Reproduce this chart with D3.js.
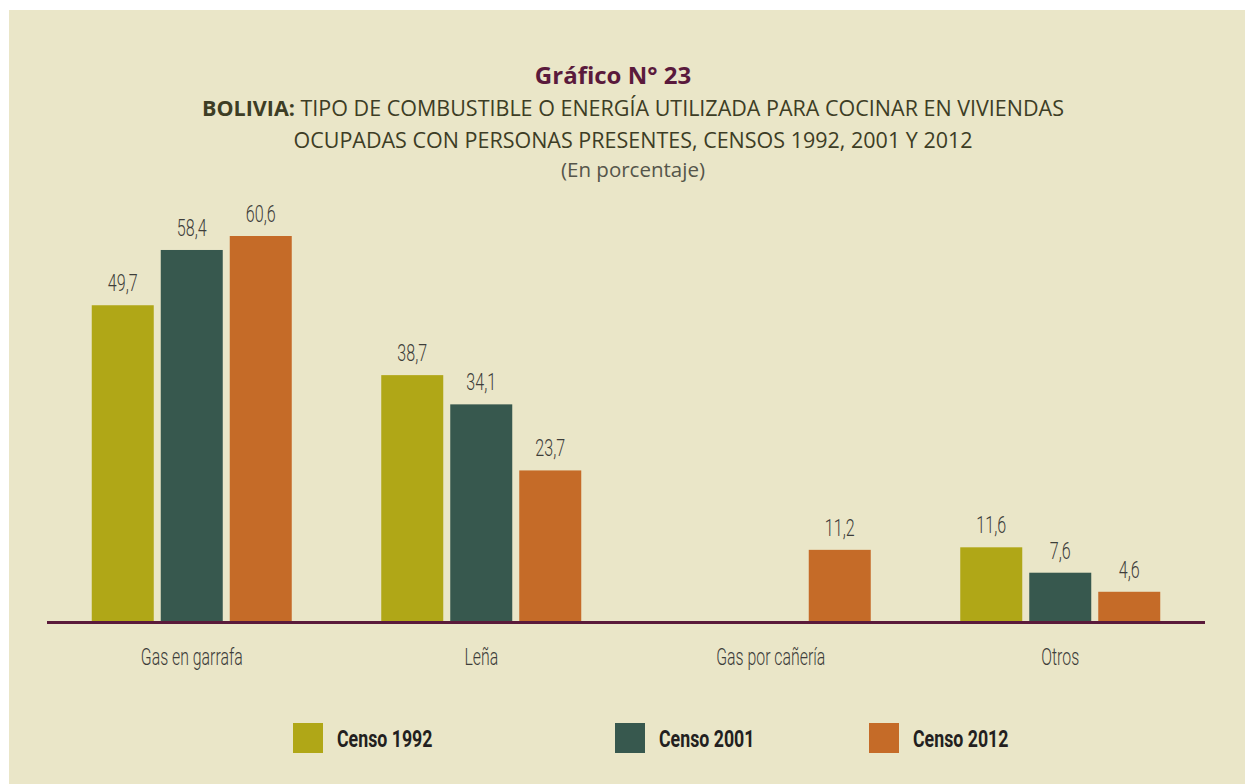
<!DOCTYPE html>
<html>
<head>
<meta charset="utf-8">
<script src="https://cdn.jsdelivr.net/npm/d3@7"></script>
<style>
  body { margin: 0; background: #ffffff; }
  svg { display: block; }
</style>
</head>
<body>
<svg id="chart"></svg>
<script>
// datos
const categories = ['Gas en garrafa', 'Leña', 'Gas por cañería', 'Otros'];
const seriesNames = ['Censo 1992', 'Censo 2001', 'Censo 2012'];
const censo1992 = [49.7, 38.7, null, 11.6];
const censo2001 = [58.4, 34.1, null, 7.6];
const censo2012 = [60.6, 23.7, 11.2, 4.6];
const colors = ['#b0a717', '#37584e', '#c56b28'];

const W = 1245, H = 784;
const svg = d3.select('#chart').attr('width', W).attr('height', H);

svg.append('rect')
    .attr('x', 9).attr('y', 10)
    .attr('width', W - 9).attr('height', H - 10)
    .attr('fill', '#eae6c8');

// texto condensado: Roboto comprimido horizontalmente
const NARROW = 'Roboto, sans-serif';
function narrowText(sel, sx) {
    return sel.attr('font-family', NARROW)
        .attr('transform', function() {
            const t = d3.select(this);
            return 'translate(' + t.attr('data-x') + ',' + t.attr('data-y') + ') scale(' + sx + ',1)';
        });
}

const base = 621;
const x0 = d3.scaleBand()
    .domain(categories)
    .range([47, 47 + 1158]);

const barW = 62, gap = 7;
const x1 = d3.scaleBand()
    .domain(seriesNames)
    .range([-(barW * 3 + gap * 2) / 2, (barW * 3 + gap * 2) / 2])
    .paddingInner(gap / (barW + gap));

const y = d3.scaleLinear()
    .domain([0, 60.6])
    .range([base, 236]);

const series = [censo1992, censo2001, censo2012];
const rows = [];
series.forEach((vals, s) => {
    vals.forEach((v, i) => {
        if (v !== null) rows.push({ cat: categories[i], name: seriesNames[s], value: v, s: s });
    });
});

const fmt = v => v.toFixed(1).replace('.', ',');
const barX = d => x0(d.cat) + x0.bandwidth() / 2 + x1(d.name);

const bars = svg.append('g');
bars.selectAll('rect')
    .data(rows)
    .enter()
    .append('rect')
    .attr('x', barX)
    .attr('y', d => y(d.value))
    .attr('width', x1.bandwidth())
    .attr('height', d => y(0) - y(d.value))
    .attr('fill', d => colors[d.s]);

bars.selectAll('text')
    .data(rows)
    .enter()
    .append('text')
    .attr('data-x', d => barX(d) + x1.bandwidth() / 2)
    .attr('data-y', d => y(d.value) - 14)
    .attr('text-anchor', 'middle')
    .attr('font-size', 24)
    .attr('font-weight', 300)
    .attr('fill', '#3d3d3a')
    .text(d => fmt(d.value))
    .call(narrowText, 0.67);

// linea base
svg.append('line')
    .attr('x1', x0.range()[0]).attr('x2', x0.range()[1])
    .attr('y1', y(0) + 1.5).attr('y2', y(0) + 1.5)
    .attr('stroke', '#5a1a3a')
    .attr('stroke-width', 3);

const gX = svg.append('g')
    .attr('transform', 'translate(0,' + y(0) + ')')
    .call(d3.axisBottom(x0).tickSize(0).tickPadding(0));
gX.select('.domain').remove();
gX.selectAll('.tick').attr('transform', null);
gX.selectAll('.tick text')
    .attr('data-x', d => x0(d) + x0.bandwidth() / 2)
    .attr('data-y', 44)
    .attr('y', null)
    .attr('dy', null)
    .attr('font-size', 24)
    .attr('font-weight', 300)
    .attr('fill', '#3d3d3a')
    .call(narrowText, 0.66);

// titulos
svg.append('text')
    .attr('x', 613).attr('y', 84)
    .attr('text-anchor', 'middle')
    .attr('font-family', '"Open Sans", sans-serif')
    .attr('font-weight', 'bold')
    .attr('font-size', 24)
    .attr('fill', '#5a1a3c')
    .text('Gráfico N° 23');

const sub1 = svg.append('text')
    .attr('x', 633).attr('y', 116)
    .attr('text-anchor', 'middle')
    .attr('font-family', '"Open Sans", sans-serif')
    .attr('font-size', 21.5)
    .attr('fill', '#3d3d25');
sub1.append('tspan').attr('font-weight', 'bold').text('BOLIVIA: ');
sub1.append('tspan').text('TIPO DE COMBUSTIBLE O ENERGÍA UTILIZADA PARA COCINAR EN VIVIENDAS');

svg.append('text')
    .attr('x', 633).attr('y', 148)
    .attr('text-anchor', 'middle')
    .attr('font-family', '"Open Sans", sans-serif')
    .attr('font-size', 21.5)
    .attr('fill', '#3d3d25')
    .text('OCUPADAS CON PERSONAS PRESENTES, CENSOS 1992, 2001 Y 2012');

svg.append('text')
    .attr('x', 633).attr('y', 177)
    .attr('text-anchor', 'middle')
    .attr('font-family', '"Open Sans", sans-serif')
    .attr('font-size', 20.5)
    .attr('fill', '#55554a')
    .text('(En porcentaje)');

// leyenda
const legendX = [293, 615, 869];
const legend = svg.append('g').selectAll('g')
    .data(seriesNames)
    .enter()
    .append('g')
    .attr('transform', (d, i) => 'translate(' + legendX[i] + ',723)');
legend.append('rect')
    .attr('width', 30).attr('height', 30)
    .attr('fill', (d, i) => colors[i]);
legend.append('text')
    .attr('data-x', 44).attr('data-y', 24)
    .attr('font-size', 24)
    .attr('font-weight', 'bold')
    .attr('fill', '#231f20')
    .text(d => d)
    .call(narrowText, 0.74);
</script>
</body>
</html>
